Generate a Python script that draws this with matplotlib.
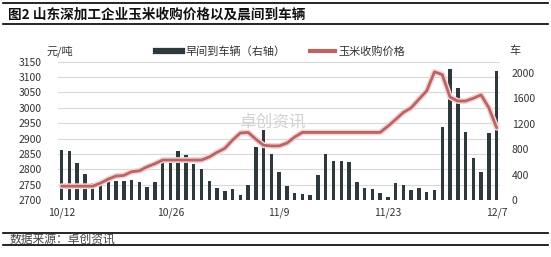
import matplotlib
matplotlib.use('Agg')
import matplotlib.pyplot as plt
import matplotlib.patheffects as pe
from matplotlib.lines import Line2D
import numpy as np
import pandas as pd

plt.rcParams['font.family'] = ['Noto Sans CJK SC', 'DejaVu Sans']

# ---------------- data ----------------
dates = pd.date_range('2023-10-12', '2023-12-07', freq='D')
date_labels = [f'{d.month}/{d.day}' for d in dates]

price = [2745, 2745, 2745, 2745, 2745, 2755, 2768, 2778, 2780, 2792,
         2795, 2808, 2818, 2830, 2830, 2830, 2830, 2830, 2830, 2840,
         2855, 2868, 2895, 2918, 2920, 2898, 2878, 2876, 2876, 2885,
         2905, 2920, 2920, 2920, 2920, 2920, 2920, 2920, 2920, 2920,
         2920, 2920, 2940, 2962, 2985, 3000, 3028, 3055, 3117, 3108,
         3035, 3022, 3022, 3031, 3042, 3000, 2935]

arrivals = [790, 775, 590, 410, 275, 290, 325, 300, 300, 315,
            285, 210, 285, 605, 605, 775, 710, 565, 490, 300,
            195, 142, 174, 79, 237, 840, 1105, 730, 447, 221,
            110, 90, 76, 395, 726, 615, 615, 594, 284, 189,
            174, 116, 47, 268, 237, 158, 189, 131, 158, 1157,
            2070, 1765, 1075, 660, 440, 1061, 2037]

tick_labels = ['10/12', '10/26', '11/9', '11/23', '12/7']
price_ticks = [2700, 2750, 2800, 2850, 2900, 2950, 3000, 3050, 3100, 3150]
arrival_ticks = [0, 400, 800, 1200, 1600, 2000]

series_bar = '早间到车辆（右轴）'
series_line = '玉米收购价格'
title = '图2 山东深加工企业玉米收购价格以及晨间到车辆'
source = '数据来源：卓创资讯'

# ---------------- figure ----------------
W, H = 551, 257
fig = plt.figure(figsize=(W / 100, H / 100), dpi=100)

def fx(px):
    return px / W

def fy(py):
    return 1 - py / H

left, right, top, bottom = 57.8, 500.5, 61.7, 200.0
ax = fig.add_axes([fx(left), fy(bottom), (right - left) / W, (bottom - top) / H])
ax_bar = ax.twinx()
ax_line = ax.twinx()

x = np.arange(len(dates))
bar_color = '#2E393D'
line_color = '#BA6464'
text_color = '#333333'

# grid / left axis
ax.set_ylim(price_ticks[0], price_ticks[-1])
ax.set_yticks(price_ticks)
ax.yaxis.grid(True, color='#D9D9D9', lw=0.8)
ax.set_axisbelow(True)
ax.tick_params(axis='y', length=0, pad=11.5, labelsize=7.5, labelcolor=text_color)
tick_pos = [date_labels.index(t) for t in tick_labels]
ax.set_xticks(tick_pos)
ax.set_xticklabels(tick_labels)
ax.tick_params(axis='x', length=0, pad=5.5, labelsize=7.5, labelcolor=text_color)
ax.set_xlim(-0.5, len(dates) - 0.5)

# watermark (behind bars)
ax.text(fx(272), fy(122), '卓创资讯', transform=fig.transFigure, fontsize=12,
        color='#D2D2D2', ha='center', va='center', clip_on=False)

# bars on right axis
ax_bar.bar(x, arrivals, width=0.45, color=bar_color, zorder=2)
ax_bar.set_ylim(0, 2180)
ax_bar.set_yticks(arrival_ticks)
ax_bar.tick_params(axis='y', length=0, pad=8, labelsize=7.5, labelcolor=text_color)

# line on top
ax_line.plot(x, price, color=line_color, lw=2.0, solid_joinstyle='round',
             solid_capstyle='round',
             path_effects=[pe.Stroke(linewidth=4.2, foreground='#F3D4D4'), pe.Normal()])
ax_line.set_ylim(price_ticks[0], price_ticks[-1])
ax_line.set_yticks([])
ax_line.set_xlim(-0.5, len(dates) - 0.5)

for a in (ax, ax_bar, ax_line):
    for s in a.spines.values():
        s.set_visible(False)

# axis unit labels
fig.text(fx(46.5), fy(51.7), '元/吨', fontsize=8, va='center', color=text_color)
fig.text(fx(509), fy(50.7), '车', fontsize=8, va='center', color=text_color)

# legend
handles = [Line2D([], [], color=bar_color, lw=4.5),
           Line2D([], [], color=line_color, lw=3)]
ax_line.legend(handles, [series_bar, series_line], ncol=2, loc='center',
               bbox_to_anchor=(fx(281), fy(51.7)), bbox_transform=fig.transFigure,
               frameon=False, handlelength=2.3, columnspacing=2.2,
               handletextpad=0.3, fontsize=8, borderpad=0, labelcolor=text_color)

# title and source with rules
fig.text(fx(8), fy(14.5), title, fontsize=9.8, fontweight='bold', va='center', color='#111111')
fig.text(fx(10), fy(239), source, fontsize=8.5, va='center', color='#444444')
for yy in (2.7, 24, 233.3, 245):
    fig.add_artist(Line2D([fx(3), fx(548)], [fy(yy), fy(yy)], color='black', lw=1.2,
                          transform=fig.transFigure))

fig.savefig('out.png', dpi=100)
